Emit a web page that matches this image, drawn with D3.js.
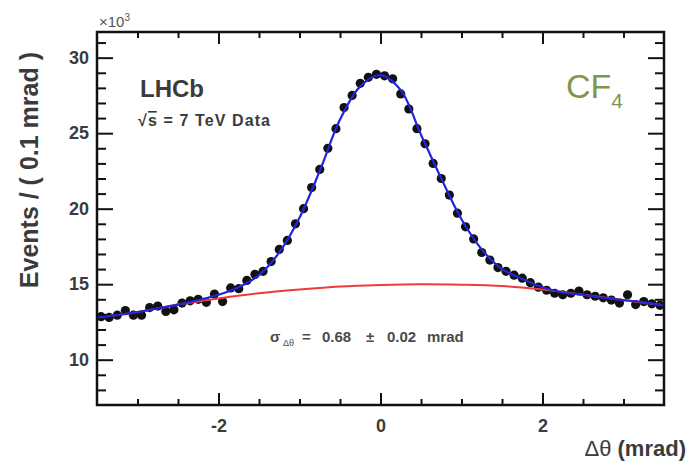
<!DOCTYPE html>
<html>
<head>
<meta charset="utf-8">
<script src="https://cdn.jsdelivr.net/npm/d3@7/dist/d3.min.js"></script>
<style>
  html, body { margin: 0; padding: 0; background: #fff; }
  svg { display: block; font-family: "Liberation Sans", Arial, Helvetica, sans-serif; }
</style>
</head>
<body>
<svg id="chart" width="689" height="463"></svg>
<script>
// Δθ distribution, 0.1 mrad bins from -3.5 to 3.5 mrad (counts in units of 10^3)
const binCenters = d3.range(70).map(i => -3.45 + i * 0.1);
const counts = [
  12.85, 12.80, 12.95, 13.25, 12.95, 12.95, 13.45, 13.55, 13.20, 13.30,
  13.75, 13.90, 14.00, 13.80, 14.35, 13.85, 14.75, 14.70, 15.25, 15.65,
  15.85, 16.50, 17.30, 17.90, 19.00, 20.00, 21.40, 22.60, 24.00, 25.30,
  26.70, 27.50, 28.30, 28.70, 28.90, 28.80, 28.60, 27.60, 26.60, 25.30,
  24.30, 23.00, 22.00, 20.90, 19.70, 18.80, 18.00, 17.10, 16.60, 16.10,
  15.85, 15.60, 15.40, 15.10, 14.80, 14.60, 14.40, 14.30, 14.40, 14.55,
  14.30, 14.20, 14.10, 13.95, 13.75, 14.30, 13.65, 13.85, 13.70, 13.60
];

// Total fit (signal + background), sampled every 0.25 mrad
const fitX = d3.range(29).map(i => -3.5 + i * 0.25);
const fitTotal = [
  12.80, 12.95, 13.15, 13.40, 13.65, 13.95, 14.30, 14.80, 15.60, 17.10,
  19.40, 22.50, 25.90, 28.10, 28.85, 27.85, 24.90, 22.00, 19.30, 17.30,
  16.00, 15.35, 14.80, 14.45, 14.30, 14.10, 13.95, 13.80, 13.60
];

// Background component, sampled every 0.5 mrad
const bkgX = d3.range(15).map(i => -3.5 + i * 0.5);
const bkgVals = [
  12.80, 13.15, 13.65, 14.05, 14.40, 14.65, 14.85, 14.95,
  15.00, 14.97, 14.88, 14.65, 14.30, 13.95, 13.60
];

const xMajor = [-2, 0, 2];
const xMinor = [-3, -2.5, -1.5, -1, -0.5, 0.5, 1, 1.5, 2.5, 3];
const yMajor = [10, 15, 20, 25, 30];
const yMinor = [8, 9, 11, 12, 13, 14, 16, 17, 18, 19, 21, 22, 23, 24, 26, 27, 28, 29, 31];

const frame = { left: 97, right: 664, top: 32, bottom: 405 };
const svg = d3.select("#chart");

const x = d3.scaleLinear().domain([-3.5, 3.5]).range([frame.left, frame.right]);
const y = d3.scaleLinear().domain([7, 31.7]).range([frame.bottom, frame.top]);

const textCol = "#3b3b3b";

// clip for the plotted curves
svg.append("clipPath").attr("id", "plotArea")
  .append("rect")
  .attr("x", frame.left).attr("y", frame.top)
  .attr("width", frame.right - frame.left).attr("height", frame.bottom - frame.top);

const plot = svg.append("g").attr("clip-path", "url(#plotArea)");

// data points
plot.append("g").selectAll("circle")
  .data(binCenters.map((c, i) => [c, counts[i]]))
  .join("circle")
  .attr("cx", d => x(d[0]))
  .attr("cy", d => y(d[1]))
  .attr("r", 4.6)
  .attr("fill", "#111");

const line = d3.line().x(d => x(d[0])).y(d => y(d[1])).curve(d3.curveCatmullRom.alpha(0.5));

// background component
plot.append("path")
  .datum(bkgX.map((v, i) => [v, bkgVals[i]]))
  .attr("d", line)
  .attr("fill", "none")
  .attr("stroke", "#f03a3a")
  .attr("stroke-width", 2);

// total fit
plot.append("path")
  .datum(fitX.map((v, i) => [v, fitTotal[i]]))
  .attr("d", line)
  .attr("fill", "none")
  .attr("stroke", "#2424d8")
  .attr("stroke-width", 2.2);

// axes on all four sides, ROOT style ticks pointing inward
const plain = d => String(d);
const bottomMaj = d3.axisBottom(x).tickValues(xMajor).tickSizeInner(-12).tickSizeOuter(0).tickFormat(plain);
const bottomMin = d3.axisBottom(x).tickValues(xMinor).tickSizeInner(-6).tickSizeOuter(0).tickFormat("");
const topMaj = d3.axisTop(x).tickValues(xMajor).tickSizeInner(-12).tickSizeOuter(0).tickFormat("");
const topMin = d3.axisTop(x).tickValues(xMinor).tickSizeInner(-6).tickSizeOuter(0).tickFormat("");
const leftMaj = d3.axisLeft(y).tickValues(yMajor).tickSizeInner(-16).tickSizeOuter(0).tickFormat(plain);
const leftMin = d3.axisLeft(y).tickValues(yMinor).tickSizeInner(-9).tickSizeOuter(0).tickFormat("");
const rightMaj = d3.axisRight(y).tickValues(yMajor).tickSizeInner(-16).tickSizeOuter(0).tickFormat("");
const rightMin = d3.axisRight(y).tickValues(yMinor).tickSizeInner(-9).tickSizeOuter(0).tickFormat("");

function styleAxis(g) {
  g.select(".domain").remove();
  g.selectAll(".tick line").attr("stroke", "#111").attr("stroke-width", 2);
  g.selectAll(".tick text")
    .attr("fill", textCol)
    .attr("font-size", 18)
    .attr("font-weight", "bold");
}

svg.append("g").attr("transform", `translate(0,${frame.bottom})`).call(bottomMaj).call(styleAxis)
  .selectAll(".tick text").attr("y", 14).attr("dy", "0.71em");
svg.append("g").attr("transform", `translate(0,${frame.bottom})`).call(bottomMin).call(styleAxis);
svg.append("g").attr("transform", `translate(0,${frame.top})`).call(topMaj).call(styleAxis);
svg.append("g").attr("transform", `translate(0,${frame.top})`).call(topMin).call(styleAxis);
svg.append("g").attr("transform", `translate(${frame.left},0)`).call(leftMaj).call(styleAxis)
  .selectAll(".tick text").attr("x", -8);
svg.append("g").attr("transform", `translate(${frame.left},0)`).call(leftMin).call(styleAxis);
svg.append("g").attr("transform", `translate(${frame.right},0)`).call(rightMaj).call(styleAxis);
svg.append("g").attr("transform", `translate(${frame.right},0)`).call(rightMin).call(styleAxis);

// frame
svg.append("rect")
  .attr("x", frame.left).attr("y", frame.top)
  .attr("width", frame.right - frame.left).attr("height", frame.bottom - frame.top)
  .attr("fill", "none").attr("stroke", "#111").attr("stroke-width", 2.5);

// exponent marker
const expo = svg.append("text").attr("x", 99).attr("y", 27).attr("fill", "#555").attr("font-size", 15);
expo.append("tspan").text("×10");
expo.append("tspan").attr("dy", -6).attr("font-size", 10).text("3");

// axis titles
svg.append("text")
  .attr("transform", `translate(38,${frame.top + 20}) rotate(-90)`)
  .attr("text-anchor", "end")
  .attr("fill", textCol)
  .attr("font-size", 25)
  .attr("font-weight", "bold")
  .text("Events / ( 0.1 mrad )");

const xt = svg.append("text")
  .attr("x", 686).attr("y", 456)
  .attr("text-anchor", "end")
  .attr("fill", textCol)
  .attr("font-size", 22);
xt.append("tspan").text("Δθ ");
xt.append("tspan").attr("font-weight", "bold").text("(mrad)");

// labels inside the frame
svg.append("text").attr("x", 140).attr("y", 97)
  .attr("fill", textCol).attr("font-size", 24).attr("font-weight", "bold").text("LHCb");

const sq = svg.append("text").attr("x", 138).attr("y", 126)
  .attr("fill", textCol).attr("font-size", 16).attr("font-weight", "bold")
  .attr("textLength", 132).attr("lengthAdjust", "spacing");
sq.append("tspan").text("√");
sq.append("tspan").attr("text-decoration", "overline").text("s");
sq.append("tspan").text(" = 7 TeV Data");

const cf = svg.append("text").attr("x", 566).attr("y", 98).attr("fill", "#7d9846").attr("font-size", 34);
cf.append("tspan").text("CF");
cf.append("tspan").attr("font-size", 21).attr("dy", 10).text("4");

// fitted resolution
const sig = svg.append("g").attr("fill", "#4a4a4a").attr("font-weight", "bold").attr("font-size", 15);
sig.append("text").attr("x", 270).attr("y", 342).text("σ");
sig.append("text").attr("x", 283).attr("y", 346).attr("font-size", 9).attr("font-weight", "normal").text("Δθ");
sig.append("text").attr("x", 302).attr("y", 342).text("=");
sig.append("text").attr("x", 322).attr("y", 342).text("0.68");
sig.append("text").attr("x", 366).attr("y", 342).text("±");
sig.append("text").attr("x", 387).attr("y", 342).text("0.02");
sig.append("text").attr("x", 427).attr("y", 342).text("mrad");
</script>
</body>
</html>
